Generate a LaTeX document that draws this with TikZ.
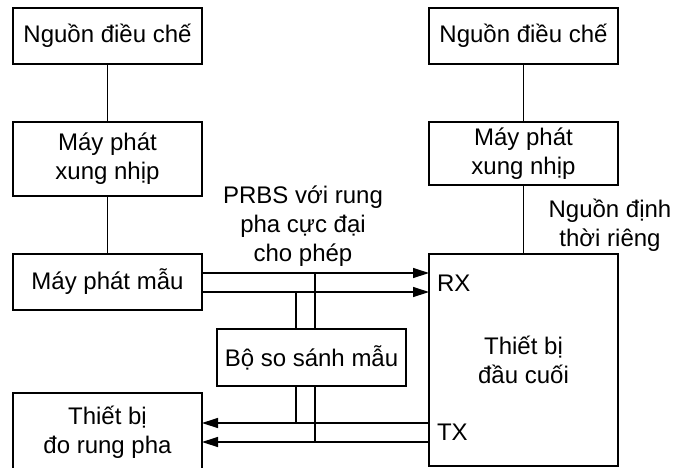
\documentclass[tikz,border=0pt]{standalone}
\usepackage{fontspec}
\setmainfont{Liberation Sans}
\usetikzlibrary{arrows.meta,calc}
\begin{document}
\begin{tikzpicture}[x=1pt,y=-1pt,
  every node/.style={font=\fontsize{24}{29}\selectfont, inner sep=0pt, outer sep=0pt},
  blk/.style={draw, line width=1.3pt, minimum width=189pt, align=center},
  wire/.style={line width=1.3pt},
  arr/.style={wire, -{Triangle[length=16pt,width=10pt]}},
  lbl/.style={align=center}]
\useasboundingbox (0,0) rectangle (674,467);
\clip (0,0) rectangle (674,467);
\fill[white] (0,0) rectangle (674,467);
% left column
\node[blk, minimum height=56pt] (ls) at (107.5,36) {Nguồn điều chế};
\node[blk, minimum height=74pt] (lc) at (107.5,159) {Máy phát\\xung nhịp};
\node[blk, minimum height=56pt] (pg) at (107.5,282) {Máy phát mẫu};
\node[blk, minimum height=78pt] (meter) at (107.5,432) {Thiết bị\\đo rung pha};
% comparator
\node[blk, minimum height=57pt] (cmp) at (311.5,357.5) {Bộ so sánh mẫu};
% right column
\node[blk, minimum height=56pt] (rs) at (523.5,36) {Nguồn điều chế};
\node[blk, minimum height=63pt] (rc) at (523.5,153.5) {Máy phát\\xung nhịp};
\node[blk, minimum height=212pt] (term) at (523.5,360) {Thiết bị\\đầu cuối};
\node[anchor=west] (rx) at (437,283) {RX};
\node[anchor=west] (tx) at (437,432) {TX};
% labels
\node[lbl] (prbs) at (303,226) {PRBS với rung\\pha cực đại\\cho phép};
\node[lbl] (own) at (610,225) {Nguồn định\\thời riêng};
% coordinates
\coordinate (a1) at (0,273);
\coordinate (a2) at (0,292);
\coordinate (b1) at (0,423);
\coordinate (b2) at (0,442);
\coordinate (v1) at (296,0);
\coordinate (v2) at (315,0);
% vertical links
\draw[wire] (ls) -- (lc);
\draw[wire] (lc) -- (pg);
\draw[wire] (rs) -- (rc);
\draw[wire] (rc) -- (term);
% signal lines
\draw[arr] (pg.east |- a1) -- (term.west |- a1);
\draw[arr] (pg.east |- a2) -- (term.west |- a2);
\draw[arr] (term.west |- b1) -- (meter.east |- b1);
\draw[arr] (term.west |- b2) -- (meter.east |- b2);
\draw[wire] (v2 |- a1) -- (v2 |- cmp.north);
\draw[wire] (v1 |- a2) -- (v1 |- cmp.north);
\draw[wire] (v1 |- cmp.south) -- (v1 |- b1);
\draw[wire] (v2 |- cmp.south) -- (v2 |- b2);
\end{tikzpicture}
\end{document}
